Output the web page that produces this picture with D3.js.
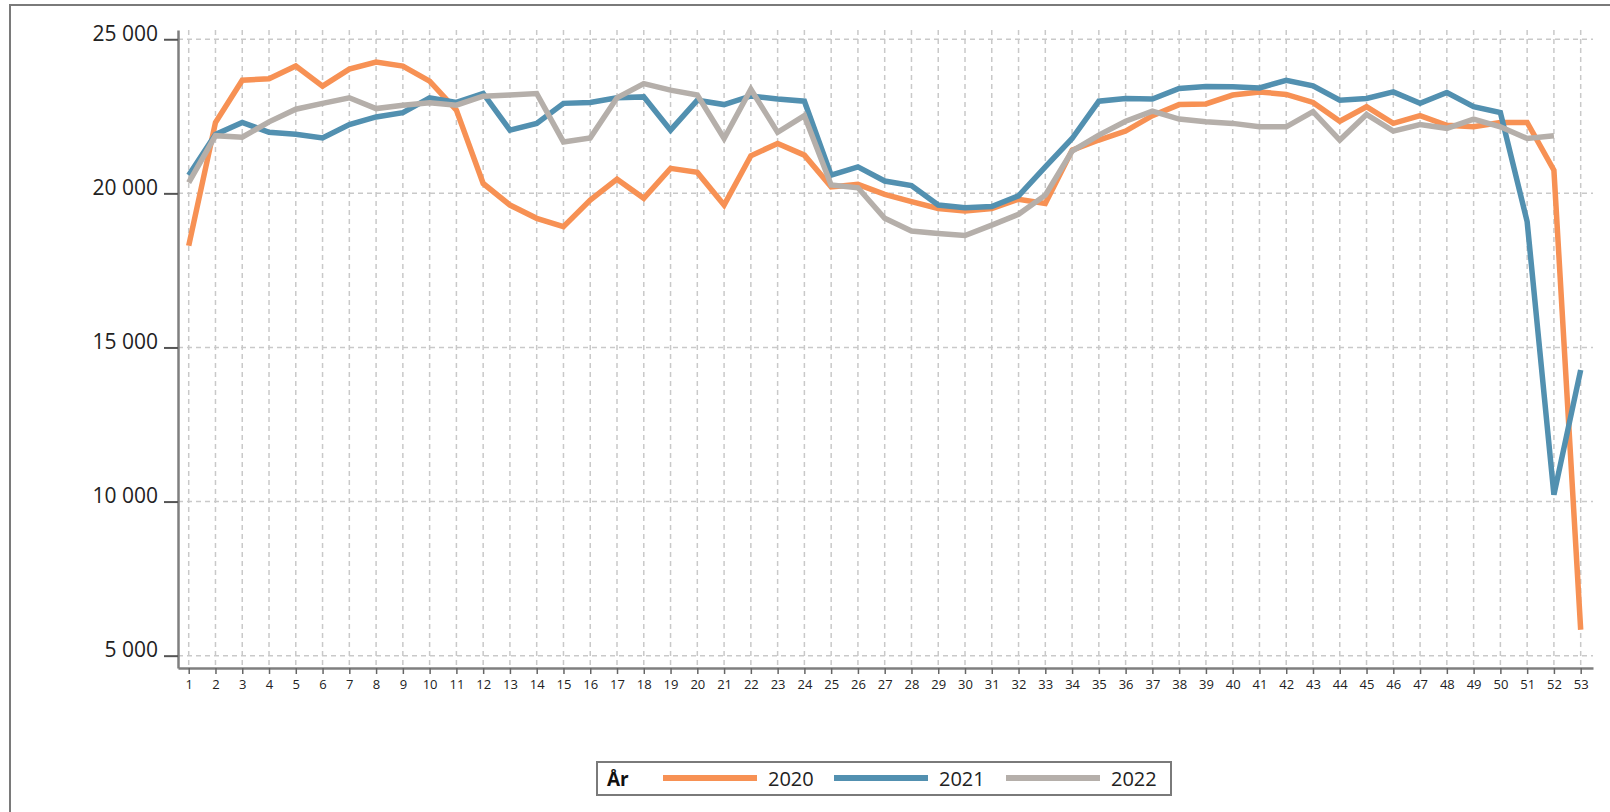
<!DOCTYPE html>
<html>
<head>
<meta charset="utf-8">
<script src="https://cdn.jsdelivr.net/npm/d3@7"></script>
<style>
  html, body { margin: 0; padding: 0; background: #fff; }
  svg { display: block; }
  text { font-family: "Open Sans", "Noto Sans", sans-serif; }
</style>
</head>
<body>
<svg id="chart" width="1610" height="812"></svg>
<script>
// ---- data ----
const weeks = [1,2,3,4,5,6,7,8,9,10,11,12,13,14,15,16,17,18,19,20,21,22,23,24,25,26,27,28,29,30,
  31,32,33,34,35,36,37,38,39,40,41,42,43,44,45,46,47,48,49,50,51,52,53];

const yearLabels = ["2020", "2021", "2022"];

const values2020 = [18300,22300,23670,23720,24130,23480,24030,24260,24130,23640,22700,20320,19620,19190,18920,
  19780,20460,19840,20810,20680,19620,21220,21620,21240,20210,20290,19970,19730,19510,19430,19510,19810,19670,
  21400,21730,22020,22520,22880,22900,23190,23290,23210,22950,22340,22810,22270,22520,22210,22160,22300,22300,
  20750,5840];

const values2021 = [20590,21910,22300,21980,21920,21800,22230,22480,22620,23100,22950,23240,22050,22270,22920,
  22950,23100,23130,22050,23020,22880,23160,23060,22990,20590,20860,20400,20250,19620,19530,19570,19920,20860,
  21780,22990,23080,23060,23400,23470,23460,23420,23670,23490,23020,23080,23290,22920,23270,22810,22620,19080,
  10220,14270];

const values2022 = [20350,21870,21820,22320,22730,22920,23100,22750,22860,22940,22860,23150,23190,23240,21670,
  21800,23100,23560,23350,23190,21780,23380,21980,22520,20270,20180,19190,18780,18700,18630,18970,19320,19940,
  21370,21890,22340,22670,22410,22320,22270,22160,22160,22650,21730,22560,22020,22230,22110,22410,22160,21780,
  21870,null];

const yTickValues = [5000, 10000, 15000, 20000, 25000];
const colors = ["#F79154", "#5290B0", "#B5AFAA"];
const legendTitle = "År";

// ---- drawing ----
const svg = d3.select("#chart");

const x = d3.scaleLinear().domain([0.6, 53.46]).range([178, 1593]);
const y = d3.scaleLinear().domain([4600, 25300]).range([668, 30]);

// outer frame
svg.append("rect")
  .attr("x", 10).attr("y", 5).attr("width", 1700).attr("height", 900)
  .attr("fill", "none").attr("stroke", "#7a7a7a").attr("stroke-width", 2);

// gridlines
const grid = svg.append("g").attr("stroke", "#c9c9c9").attr("stroke-width", 1.5)
  .attr("stroke-dasharray", "5,4");
grid.selectAll("line.h").data(yTickValues).join("line").attr("class", "h")
  .attr("x1", x.range()[0]).attr("x2", x.range()[1])
  .attr("y1", d => y(d)).attr("y2", d => y(d));
grid.selectAll("line.v").data(weeks).join("line").attr("class", "v")
  .attr("x1", d => x(d)).attr("x2", d => x(d))
  .attr("y1", y.range()[1]).attr("y2", y.range()[0]);

// y axis
const fmt = d => d3.format(",")(d).replace(/,/g, " ");
const yAxis = svg.append("g").attr("transform", `translate(${x.range()[0]},0)`)
  .call(d3.axisLeft(y).tickValues(yTickValues).tickSize(14).tickSizeOuter(0).tickPadding(6).tickFormat(fmt));
yAxis.select(".domain").attr("stroke", "#7f7f7f").attr("stroke-width", 2.5);
yAxis.selectAll(".tick line").attr("stroke", "#555").attr("stroke-width", 2);
yAxis.selectAll(".tick text").attr("font-size", 21).attr("fill", "#222").attr("dy", "0.05em");

// x axis
const xAxis = svg.append("g").attr("transform", `translate(0,${y.range()[0]})`)
  .call(d3.axisBottom(x).tickValues(weeks).tickSize(6).tickSizeOuter(0).tickPadding(6).tickFormat(d3.format("d")));
xAxis.select(".domain").attr("stroke", "#7f7f7f").attr("stroke-width", 2.5);
xAxis.selectAll(".tick line").attr("stroke", "#666").attr("stroke-width", 1.5);
xAxis.selectAll(".tick text").attr("font-size", 13).attr("fill", "#222");

// lines
const series = [values2020, values2021, values2022];
const line = d3.line()
  .defined(d => d != null)
  .x((d, i) => x(weeks[i]))
  .y(d => y(d));

svg.append("g").selectAll("path").data(series).join("path")
  .attr("d", d => line(d))
  .attr("fill", "none")
  .attr("stroke", (d, i) => colors[i])
  .attr("stroke-width", 5.5)
  .attr("stroke-linejoin", "miter");

// legend
const lg = svg.append("g");
lg.append("rect").attr("x", 597).attr("y", 762).attr("width", 574).attr("height", 33)
  .attr("fill", "#fff").attr("stroke", "#7a7a7a").attr("stroke-width", 2);
lg.append("text").attr("x", 607).attr("y", 779).attr("dy", "0.35em")
  .attr("font-size", 19).attr("font-weight", "bold").attr("fill", "#111").text(legendTitle);
const legendX = [663, 834, 1006];
yearLabels.forEach((lab, i) => {
  lg.append("line").attr("x1", legendX[i]).attr("x2", legendX[i] + 94)
    .attr("y1", 778).attr("y2", 778).attr("stroke", colors[i]).attr("stroke-width", 6);
  lg.append("text").attr("x", legendX[i] + 105).attr("y", 779).attr("dy", "0.35em")
    .attr("font-size", 20).attr("fill", "#222").text(lab);
});
</script>
</body>
</html>
